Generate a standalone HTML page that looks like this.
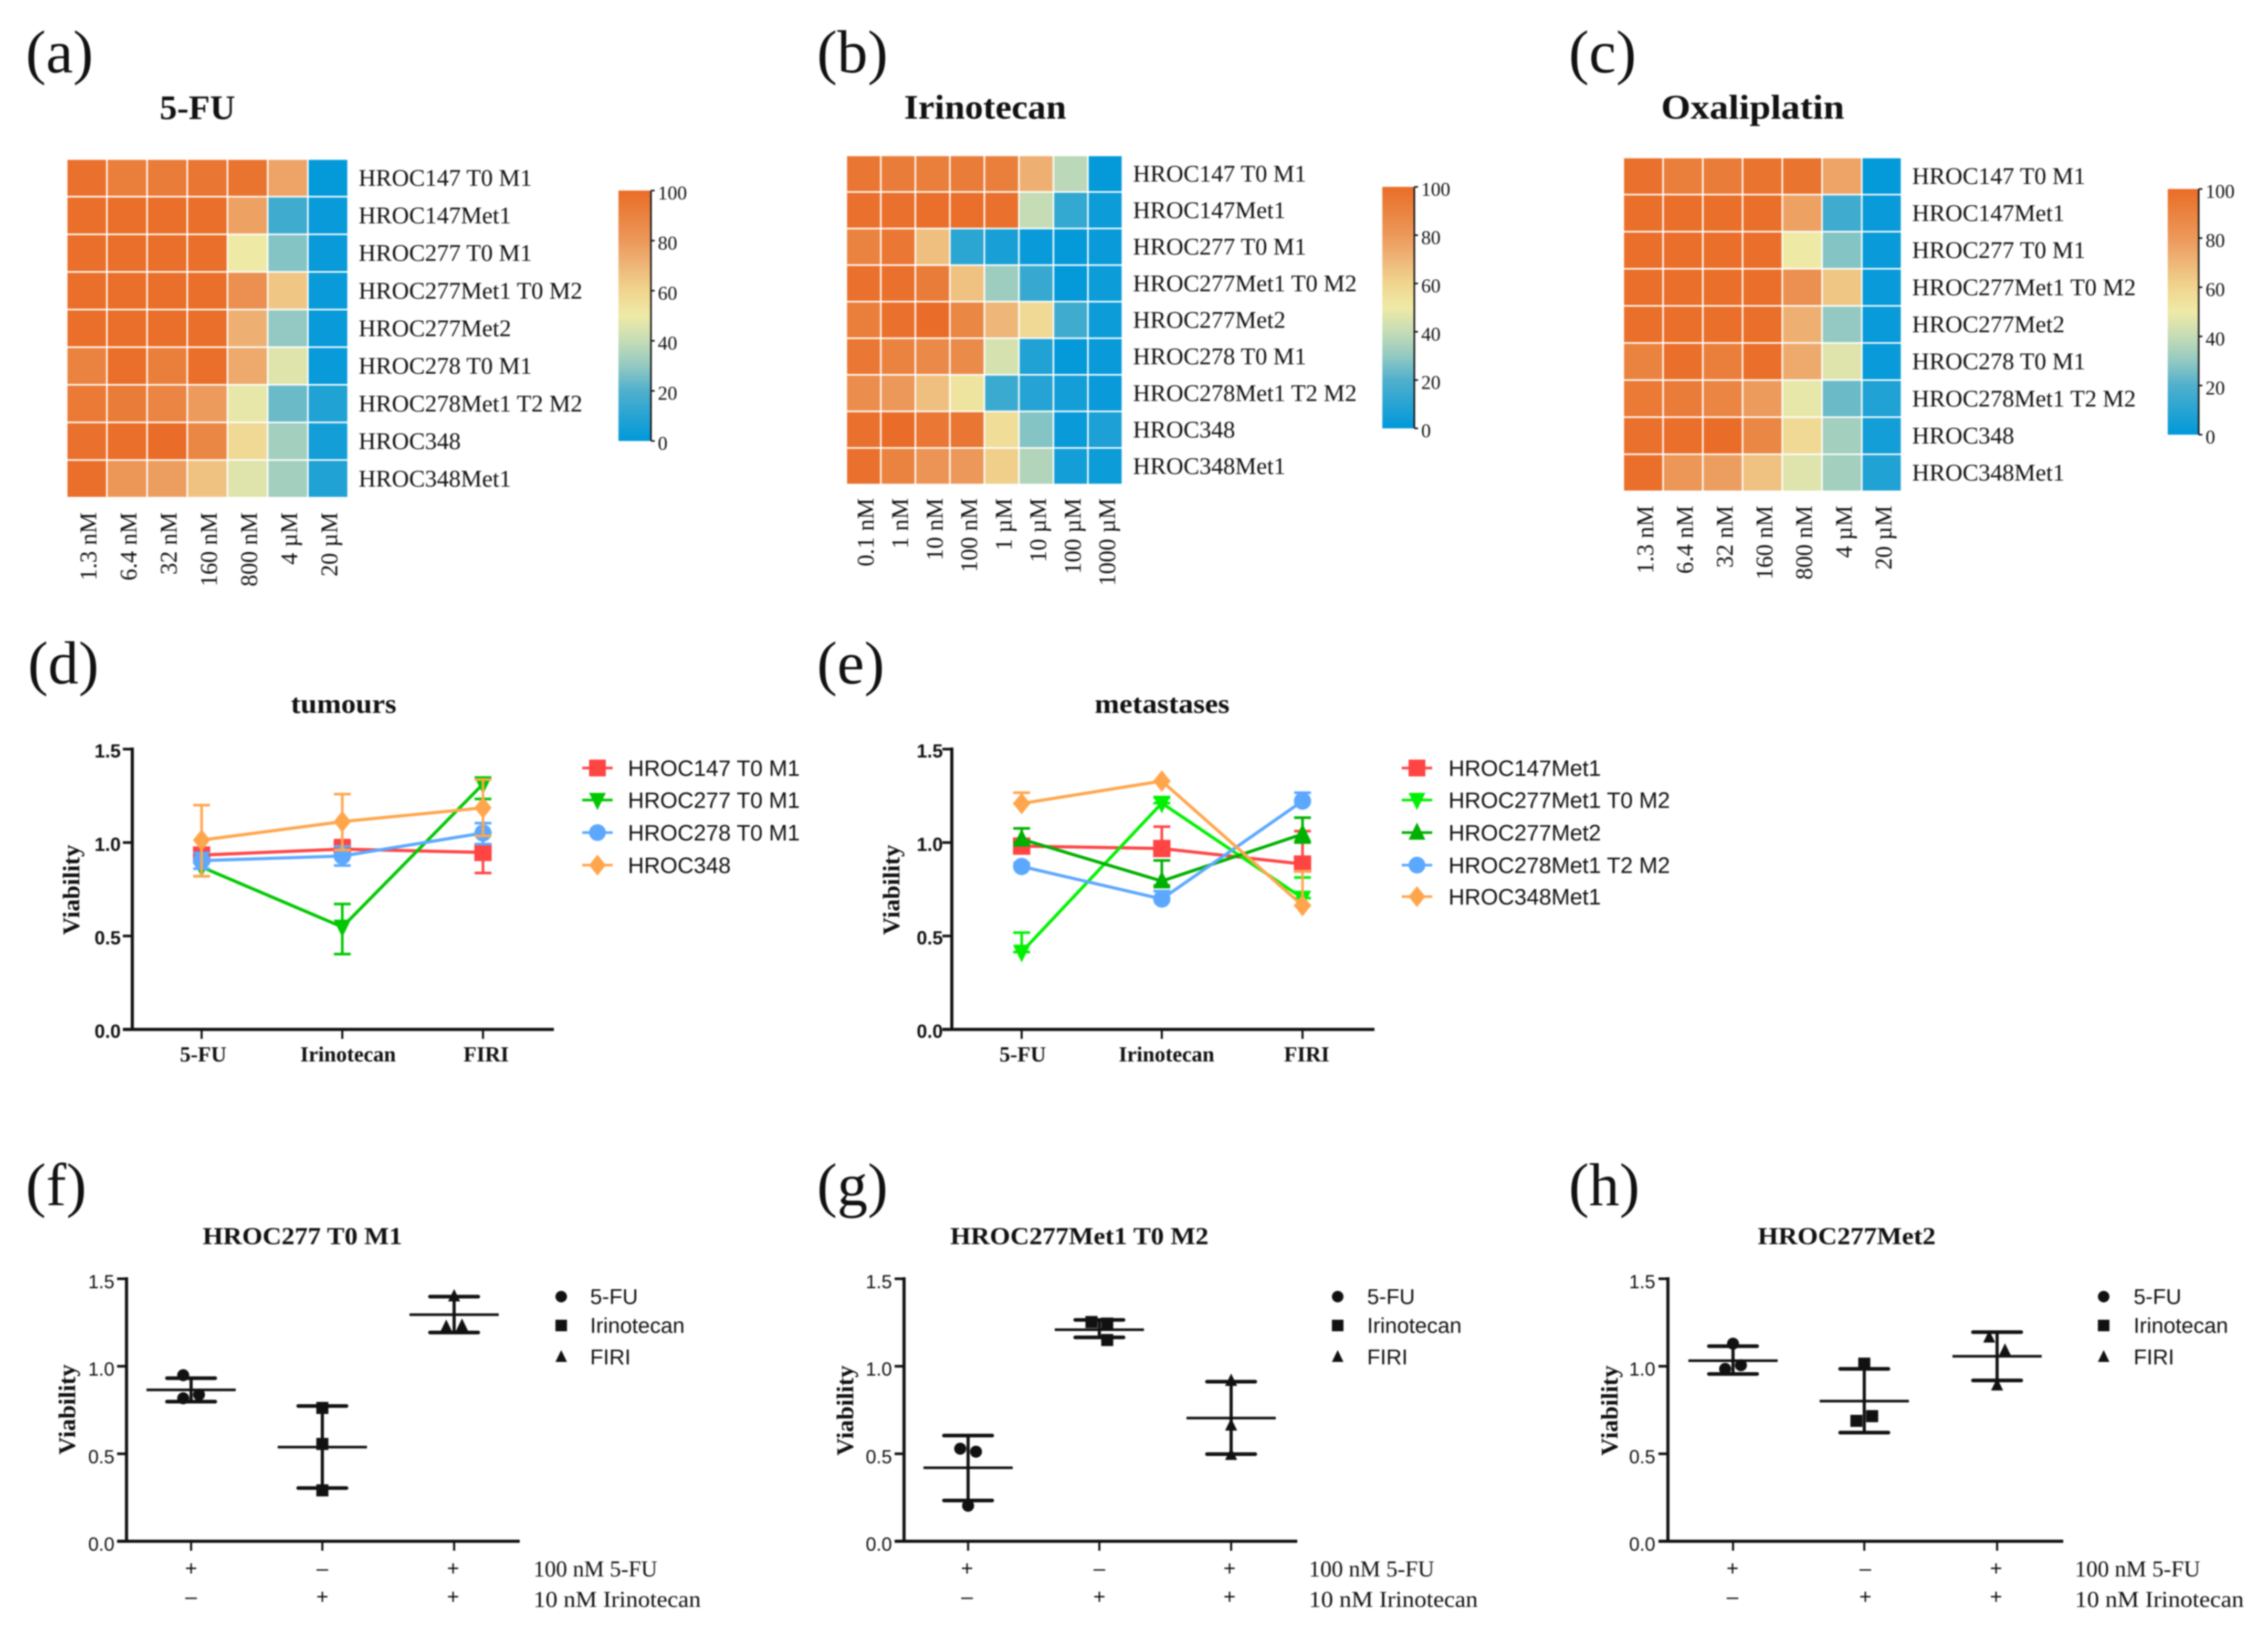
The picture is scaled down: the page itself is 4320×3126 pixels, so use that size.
<!DOCTYPE html>
<html lang="en">
<head>
<meta charset="utf-8">
<title>Drug response heatmaps and viability charts</title>
<style>
html,body{margin:0;padding:0;background:#fff;}
#figure{display:block;width:4320px;height:3126px;filter:blur(1.3px);}
text{fill:#111;}
.serif{font-family:"Liberation Serif",serif;}
.sans{font-family:"Liberation Sans",sans-serif;}
</style>
</head>
<body>
<svg id="figure" xmlns="http://www.w3.org/2000/svg" width="4320" height="3126" viewBox="0 0 4320 3126">
<rect x="0" y="0" width="4320" height="3126" fill="#fff"></rect>
<defs id="defs"></defs>
</svg>
<script>
// ---------- heatmap data ----------
const hrocRows = ['HROC147 T0 M1','HROC147Met1','HROC277 T0 M1','HROC277Met1 T0 M2','HROC277Met2','HROC278 T0 M1','HROC278Met1 T2 M2','HROC348','HROC348Met1'];
const fuDoses = ['1.3 nM','6.4 nM','32 nM','160 nM','800 nM','4 µM','20 µM'];
const irinotecanDoses = ['0.1 nM','1 nM','10 nM','100 nM','1 µM','10 µM','100 µM','1000 µM'];
const oxaliplatinDoses = ['1.3 nM','6.4 nM','32 nM','160 nM','800 nM','4 µM','20 µM'];
const fuMatrix = [
 [98,92,93,96,97,76,1],
 [99,99,99,99,77,16,2],
 [99,99,99,99,50,28,2],
 [99,99,99,99,84,65,2],
 [99,99,99,99,72,30,2],
 [90,99,92,99,74,46,2],
 [94,93,89,79,48,24,8],
 [98,99,100,88,58,33,5],
 [99,81,78,66,46,33,8]];
const irinotecanMatrix = [
 [96,93,92,93,92,72,38,1],
 [98,98,99,99,98,40,13,3],
 [90,95,67,11,6,2,1,2],
 [98,98,93,66,32,14,1,3],
 [92,98,100,88,70,58,16,3],
 [95,90,87,86,44,8,1,2],
 [85,80,67,53,15,9,5,2],
 [98,100,95,96,56,28,2,7],
 [98,90,82,80,62,36,5,3]];
const oxaliplatinMatrix = [
 [98,92,93,97,97,76,1],
 [99,99,99,99,77,16,2],
 [99,99,99,99,50,28,2],
 [99,99,99,99,84,65,2],
 [99,99,99,99,72,30,2],
 [90,99,92,99,74,46,2],
 [94,93,89,79,48,24,8],
 [98,99,100,88,58,33,5],
 [99,81,78,66,46,33,8]];
const colorbarTicks = [0,20,40,60,80,100];
const colormapValues = [0,20,30,40,50,60,70,80,90,100];
const colormapColors = ['#0098da','#4fb0cc','#93c9c2','#c5dcb5','#eeeaa6','#f0d58f','#eeb678','#ec985a','#ea8340','#e96d28'];

// ---------- line chart data ----------
const treatmentCategories = ['5-FU','Irinotecan','FIRI'];
const viabilityTicks = [0,0.5,1,1.5];

const t147Values = [0.933,0.965,0.947];
const t147High = [0.965,1.013,0.99];
const t147Low = [0.90,0.94,0.837];
const t277Values = [0.869,0.548,1.313];
const t277High = [0.91,0.671,1.348];
const t277Low = [0.82,0.403,1.233];
const t278Values = [0.903,0.928,1.051];
const t278High = [0.945,0.98,1.104];
const t278Low = [0.86,0.877,0.992];
const t348Values = [1.013,1.112,1.186];
const t348High = [1.2,1.259,1.337];
const t348Low = [0.82,0.96,1.035];

const m147Values = [0.981,0.968,0.885];
const m147High = [1.018,1.085,1.061];
const m147Low = [0.95,0.93,0.85];
const m277aValues = [0.414,1.211,0.703];
const m277aHigh = [0.518,1.24,0.813];
const m277aLow = [0.414,1.211,0.703];
const m277bValues = [1.018,0.794,1.045];
const m277bHigh = [1.076,0.904,1.133];
const m277bLow = [1.0,0.77,1.0];
const m278Values = [0.872,0.698,1.222];
const m278High = [0.89,0.74,1.267];
const m278Low = [0.872,0.698,1.222];
const m348Values = [1.209,1.329,0.663];
const m348High = [1.267,1.329,0.847];
const m348Low = [1.209,1.329,0.663];

// ---------- scatter chart data ----------
const treatmentLegend = ['5-FU','Irinotecan','FIRI'];
const fuSigns = ['+','–','+'];
const irinotecanSigns = ['–','+','+'];
const f5FuPoints = [0.949,0.817,0.838];
const fIrinotecanPoints = [0.762,0.556,0.291];
const fFiriPoints = [1.40,1.226,1.232];
const fMeans = [0.865,0.538,1.295];
const fHigh = [0.932,0.773,1.398];
const fLow = [0.798,0.304,1.193];
const g5FuPoints = [0.529,0.512,0.203];
const gIrinotecanPoints = [1.253,1.244,1.15];
const gFiriPoints = [0.917,0.662,0.494];
const gMeans = [0.42,1.209,0.704];
const gHigh = [0.604,1.265,0.912];
const gLow = [0.233,1.165,0.498];
const h5FuPoints = [1.129,0.985,1.006];
const hIrinotecanPoints = [1.015,0.688,0.715];
const hFiriPoints = [1.165,1.09,0.891];
const hMeans = [1.032,0.801,1.057];
const hHigh = [1.115,0.985,1.195];
const hLow = [0.956,0.621,0.919];

// ---------- helpers ----------
const NS = 'http://www.w3.org/2000/svg';
const root = document.getElementById('figure');

function make(parent, tag, name, props) {
  const node = document.createElementNS(NS, tag);
  
  
  for (const key in props) { node.setAttribute(key, props[key]); }
  parent.appendChild(node);
  return node;
}
function label(parent, name, str, x, y, size, cls, extra) {
  const props = Object.assign({x: x, y: y, 'font-size': size, class: cls}, extra || {});
  const node = make(parent, 'text', name, props);
  node.textContent = str;
  return node;
}
function slug(str) {
  return String(str).toLowerCase().replace(/[^a-z0-9]+/g, '-').replace(/^-|-$/g, '');
}
function mix(a, b, t) {
  const pa = [1,3,5].map(i => parseInt(a.substr(i,2),16));
  const pb = [1,3,5].map(i => parseInt(b.substr(i,2),16));
  return 'rgb(' + pa.map((c,i) => Math.round(c + (pb[i]-c)*t)).join(',') + ')';
}
function heatColor(v) {
  const last = colormapValues.length - 1;
  if (v <= colormapValues[0]) return colormapColors[0];
  if (v >= colormapValues[last]) return colormapColors[last];
  for (let i = 0; i < last; i++) {
    if (v <= colormapValues[i+1]) {
      return mix(colormapColors[i], colormapColors[i+1], (v-colormapValues[i])/(colormapValues[i+1]-colormapValues[i]));
    }
  }
  return colormapColors[last];
}
function drawMarker(parent, name, shape, cx, cy, s, color) {
  const r = s/2;
  if (shape === 'square') {
    return make(parent, 'rect', name, {x: cx-r, y: cy-r, width: s, height: s, fill: color});
  }
  if (shape === 'circle') {
    return make(parent, 'circle', name, {cx: cx, cy: cy, r: r, fill: color});
  }
  let pts;
  if (shape === 'diamond') {
    pts = [[cx,cy-r*1.25],[cx+r,cy],[cx,cy+r*1.25],[cx-r,cy]];
  } else if (shape === 'down') {
    pts = [[cx-r,cy-r*0.85],[cx+r,cy-r*0.85],[cx,cy+r*1.2]];
  } else {
    pts = [[cx-r,cy+r*0.85],[cx+r,cy+r*0.85],[cx,cy-r*1.2]];
  }
  return make(parent, 'polygon', name, {points: pts.map(p => p.join(',')).join(' '), fill: color});
}

// gradient for colorbars
const gradient = make(document.getElementById('defs'), 'linearGradient', 'colormap-gradient', {id:'colormap', x1:0, y1:1, x2:0, y2:0});
colormapValues.forEach((v, i) => {
  make(gradient, 'stop', 'colormap-stop', {offset: v + '%', 'stop-color': colormapColors[i]});
});

// ---------- panel letters ----------
const panelLetters = ['(a)','(b)','(c)','(d)','(e)','(f)','(g)','(h)'];
function drawLetter(str, x, y) {
  const node = label(root, 'panel-label-' + slug(str), str, x, y, 116, 'serif');
  return node;
}
drawLetter(panelLetters[0], 49, 138);
drawLetter(panelLetters[1], 1556, 138);
drawLetter(panelLetters[2], 2988, 138);
drawLetter(panelLetters[3], 53, 1302);
drawLetter(panelLetters[4], 1556, 1302);
drawLetter(panelLetters[5], 49, 2296);
drawLetter(panelLetters[6], 1556, 2296);
drawLetter(panelLetters[7], 2988, 2296);

// ---------- heatmaps ----------
function drawHeatmap(id, title, rows, cols, matrix, L) {
  const g = make(root, 'g', 'heatmap-' + id, {});
  label(g, 'heatmap-title-' + id, title, L.titleX, L.titleY, 66, 'serif', {'font-weight':'bold', textLength: L.titleW, lengthAdjust:'spacingAndGlyphs'});
  const cw = (L.x1 - L.x0) / cols.length;
  const ch = (L.y1 - L.y0) / rows.length;
  const gap = 3;
  matrix.forEach((row, r) => {
    row.forEach((v, c) => {
      make(g, 'rect', 'heat-cell-' + slug(rows[r]) + '-' + slug(cols[c]), {
        x: L.x0 + c*cw + gap/2, y: L.y0 + r*ch + gap/2,
        width: cw - gap, height: ch - gap, fill: heatColor(v)
      });
    });
  });
  rows.forEach((str, r) => {
    label(g, 'row-label-' + slug(str), str, L.x1 + 20, L.y0 + (r+0.5)*ch + 15, 45.5, 'serif');
  });
  cols.forEach((str, c) => {
    const cx = L.x0 + (c+0.5)*cw + L.colShift + 15;
    label(g, 'dose-label-' + slug(str), str, cx, L.labelTop, 45, 'serif', {
      'text-anchor':'end', transform:'rotate(-90 ' + cx + ' ' + L.labelTop + ')'
    });
  });
  // colorbar
  const barH = L.barY1 - L.barY0;
  make(g, 'rect', 'colorbar-' + id, {x: L.barX0, y: L.barY0, width: L.barX1-L.barX0, height: barH, fill:'url(#colormap)'});
  make(g, 'line', 'colorbar-axis-' + id, {x1:L.barX1, x2:L.barX1, y1:L.barY0, y2:L.barY1, stroke:'#111', 'stroke-width':3});
  colorbarTicks.forEach(v => {
    const y = L.barY1 - v/100*barH;
    make(g, 'line', 'colorbar-tick-' + v, {x1:L.barX1, x2:L.barX1+7, y1:y, y2:y, stroke:'#111', 'stroke-width':3});
    label(g, 'colorbar-label-' + v, String(v), L.barX1+13, y+17, 37, 'serif');
  });
}
drawHeatmap('5-fu', '5-FU', hrocRows, fuDoses, fuMatrix, {
  x0:127,x1:663,y0:303,y1:948,titleX:304,titleY:227,titleW:144,colShift:3,labelTop:976,
  barX0:1178,barX1:1240,barY0:363,barY1:840});
drawHeatmap('irinotecan', 'Irinotecan', hrocRows, irinotecanDoses, irinotecanMatrix, {
  x0:1612,x1:2138,y0:296,y1:923,titleX:1722,titleY:226,titleW:309,colShift:4,labelTop:949,
  barX0:2633,barX1:2694,barY0:356,barY1:816});
drawHeatmap('oxaliplatin', 'Oxaliplatin', hrocRows, oxaliplatinDoses, oxaliplatinMatrix, {
  x0:3092,x1:3622,y0:300,y1:936,titleX:3164,titleY:226,titleW:349,colShift:4,labelTop:963,
  barX0:4129,barX1:4188,barY0:360,barY1:828});

// ---------- shared axes ----------
function drawAxes(g, id, L, boldTicks) {
  const yScale = v => L.y0 - v*(L.y0 - L.yTop)/1.5;
  make(g, 'line', 'y-axis-' + id, {x1:L.axisX, x2:L.axisX, y1:L.yTop-3, y2:L.y0+3, stroke:'#111', 'stroke-width':6});
  make(g, 'line', 'x-axis-' + id, {x1:L.axisX-L.tick, x2:L.axisEnd, y1:L.y0, y2:L.y0, stroke:'#111', 'stroke-width':6});
  viabilityTicks.forEach(v => {
    const y = yScale(v);
    make(g, 'line', 'y-tick-' + id, {x1:L.axisX-L.tick, x2:L.axisX, y1:y, y2:y, stroke:'#111', 'stroke-width':5});
    label(g, 'y-tick-label-' + id, v.toFixed(1), L.axisX-L.labelGap, y+L.labelShift, 36, 'sans', {
      'text-anchor':'end', 'font-weight': boldTicks ? 'bold' : 'normal'
    });
  });
  L.xs.forEach(x => {
    make(g, 'line', 'x-tick-' + id, {x1:x, x2:x, y1:L.y0, y2:L.y0+18, stroke:'#111', 'stroke-width':4});
  });
  label(g, 'y-axis-title-' + id, 'Viability', L.ytX, L.ytY, 46, 'serif', {
    'font-weight':'bold', 'text-anchor':'middle', textLength:172, lengthAdjust:'spacingAndGlyphs',
    transform:'rotate(-90 ' + L.ytX + ' ' + L.ytY + ')'
  });
  return yScale;
}

// ---------- line charts ----------
function drawLineChart(id, title, series, L) {
  const g = make(root, 'g', 'line-chart-' + id, {});
  label(g, 'chart-title-' + id, title, L.titleX, 1358, 52, 'serif', {'font-weight':'bold', textLength:L.titleW, lengthAdjust:'spacingAndGlyphs'});
  const yScale = drawAxes(g, id, L, true);
  treatmentCategories.forEach((str, i) => {
    label(g, 'x-label-' + slug(str), str, L.catX[i], 2022, 41, 'serif', {'font-weight':'bold','text-anchor':'middle'});
  });
  series.forEach(s => {
    const key = slug(s.name);
    const sg = make(g, 'g', 'series-' + key, {});
    s.values.forEach((v, i) => {
      const x = L.xs[i], hi = yScale(s.high[i]), lo = yScale(s.low[i]);
      make(sg, 'line', 'error-bar-' + key, {x1:x, x2:x, y1:hi, y2:lo, stroke:s.color, 'stroke-width':5});
      make(sg, 'line', 'error-cap-high-' + key, {x1:x-16, x2:x+16, y1:hi, y2:hi, stroke:s.color, 'stroke-width':5});
      make(sg, 'line', 'error-cap-low-' + key, {x1:x-16, x2:x+16, y1:lo, y2:lo, stroke:s.color, 'stroke-width':5});
    });
    const pts = s.values.map((v, i) => L.xs[i] + ',' + yScale(v)).join(' ');
    make(sg, 'polyline', 'series-line-' + key, {points:pts, fill:'none', stroke:s.color, 'stroke-width':6});
    s.values.forEach((v, i) => {
      drawMarker(sg, 'point-' + key, s.marker, L.xs[i], yScale(v), 33, s.color);
    });
  });
  series.forEach((s, i) => {
    const key = slug(s.name);
    const y = L.legendY[i];
    make(g, 'line', 'legend-line-' + key, {x1:L.legendX-29, x2:L.legendX+29, y1:y, y2:y, stroke:s.color, 'stroke-width':5});
    drawMarker(g, 'legend-marker-' + key, s.marker, L.legendX, y, 32, s.color);
    label(g, 'legend-entry-' + key, s.name, L.legendTextX, y+15, 42.5, 'sans');
  });
}
drawLineChart('tumours', 'tumours', [
  {name:'HROC147 T0 M1', values:t147Values, high:t147High, low:t147Low, color:'#ff4444', marker:'square'},
  {name:'HROC277 T0 M1', values:t277Values, high:t277High, low:t277Low, color:'#00c800', marker:'down'},
  {name:'HROC278 T0 M1', values:t278Values, high:t278High, low:t278Low, color:'#5ca8ff', marker:'circle'},
  {name:'HROC348', values:t348Values, high:t348High, low:t348Low, color:'#ffa64d', marker:'diamond'}
], {axisX:252, axisEnd:1055, y0:1961, yTop:1427, tick:18, labelGap:22, labelShift:16,
    xs:[384,652,920], catX:[387,663,926], ytX:151, ytY:1695, titleX:554, titleW:201,
    legendX:1138, legendTextX:1196, legendY:[1463,1524,1586,1648]});
drawLineChart('metastases', 'metastases', [
  {name:'HROC147Met1', values:m147Values, high:m147High, low:m147Low, color:'#ff4444', marker:'square'},
  {name:'HROC277Met1 T0 M2', values:m277aValues, high:m277aHigh, low:m277aLow, color:'#00f000', marker:'down'},
  {name:'HROC277Met2', values:m277bValues, high:m277bHigh, low:m277bLow, color:'#00b000', marker:'up'},
  {name:'HROC278Met1 T2 M2', values:m278Values, high:m278High, low:m278Low, color:'#5ca8ff', marker:'circle'},
  {name:'HROC348Met1', values:m348Values, high:m348High, low:m348Low, color:'#ffa64d', marker:'diamond'}
], {axisX:1813, axisEnd:2618, y0:1961, yTop:1427, tick:18, labelGap:17, labelShift:16,
    xs:[1946,2213,2481], catX:[1948,2222,2489], ytX:1713, ytY:1695, titleX:2085, titleW:257,
    legendX:2699, legendTextX:2759, legendY:[1463,1524,1586,1648,1708]});

// ---------- scatter charts ----------
const groupMarkers = ['circle','square','up'];
function drawScatter(id, title, groups, means, high, low, L) {
  const g = make(root, 'g', 'scatter-chart-' + id, {});
  label(g, 'chart-title-' + id, title, L.titleX, 2370, 47, 'serif', {'font-weight':'bold', textLength:L.titleW, lengthAdjust:'spacingAndGlyphs'});
  const yScale = drawAxes(g, id, L, false);
  groups.forEach((points, i) => {
    const x = L.xs[i];
    const key = slug(treatmentLegend[i]);
    const gg = make(g, 'g', 'group-' + key, {});
    const hi = yScale(high[i]), lo = yScale(low[i]), m = yScale(means[i]);
    points.forEach((v, k) => {
      const near = points.findIndex((o, q) => q !== k && Math.abs(o - v) < 0.12);
      const off = near < 0 ? 0 : (k < near ? -15 : 15);
      drawMarker(gg, 'point-' + key, groupMarkers[i], x + off, yScale(v), 23, '#111');
    });
    make(gg, 'line', 'error-bar-' + key, {x1:x, x2:x, y1:hi, y2:lo, stroke:'#111', 'stroke-width':6});
    make(gg, 'line', 'error-cap-high-' + key, {x1:x-46, x2:x+46, y1:hi, y2:hi, stroke:'#111', 'stroke-width':7, 'stroke-linecap':'round'});
    make(gg, 'line', 'error-cap-low-' + key, {x1:x-46, x2:x+46, y1:lo, y2:lo, stroke:'#111', 'stroke-width':7, 'stroke-linecap':'round'});
    make(gg, 'line', 'mean-line-' + key, {x1:x-85, x2:x+85, y1:m, y2:m, stroke:'#111', 'stroke-width':5});
  });
  const legendYs = [2470,2525,2585];
  treatmentLegend.forEach((str, i) => {
    const key = slug(str);
    drawMarker(g, 'legend-marker-' + key, groupMarkers[i], L.legendX, legendYs[i], 22, '#111');
    label(g, 'legend-entry-' + key, str, L.legendTextX, legendYs[i]+14, 41, 'sans');
  });
  fuSigns.forEach((s, i) => {
    label(g, 'sign-5-fu', s, L.signX[i], 3001, 40, 'sans', {'text-anchor':'middle'});
  });
  irinotecanSigns.forEach((s, i) => {
    label(g, 'sign-irinotecan', s, L.signX[i], 3055, 40, 'sans', {'text-anchor':'middle'});
  });
  label(g, 'row-label-5-fu-dose', '100 nM 5-FU', L.rowX, 3003, 43, 'serif', {textLength:L.rowW1, lengthAdjust:'spacingAndGlyphs'});
  label(g, 'row-label-irinotecan-dose', '10 nM Irinotecan', L.rowX, 3061, 43, 'serif', {textLength:L.rowW2, lengthAdjust:'spacingAndGlyphs'});
}
drawScatter('hroc277-t0-m1', 'HROC277 T0 M1', [f5FuPoints, fIrinotecanPoints, fFiriPoints], fMeans, fHigh, fLow, {
  axisX:241, axisEnd:990, y0:2936, yTop:2436, tick:18, labelGap:23, labelShift:18,
  xs:[364,614,865], ytX:143, ytY:2685, titleX:386, titleW:380,
  legendX:1069, legendTextX:1124, signX:[364,614,863], rowX:1016, rowW1:236, rowW2:319});
drawScatter('hroc277met1-t0-m2', 'HROC277Met1 T0 M2', [g5FuPoints, gIrinotecanPoints, gFiriPoints], gMeans, gHigh, gLow, {
  axisX:1722, axisEnd:2471, y0:2936, yTop:2436, tick:18, labelGap:23, labelShift:18,
  xs:[1844,2094,2345], ytX:1625, ytY:2687, titleX:1810, titleW:492,
  legendX:2548, legendTextX:2604, signX:[1842,2094,2342], rowX:2493, rowW1:239, rowW2:322});
drawScatter('hroc277met2', 'HROC277Met2', [h5FuPoints, hIrinotecanPoints, hFiriPoints], hMeans, hHigh, hLow, {
  axisX:3177, axisEnd:3930, y0:2936, yTop:2436, tick:18, labelGap:24, labelShift:18,
  xs:[3301,3551,3804], ytX:3081, ytY:2687, titleX:3348, titleW:339,
  legendX:4007, legendTextX:4064, signX:[3300,3553,3802], rowX:3952, rowW1:239, rowW2:322});
</script>
</body>
</html>
